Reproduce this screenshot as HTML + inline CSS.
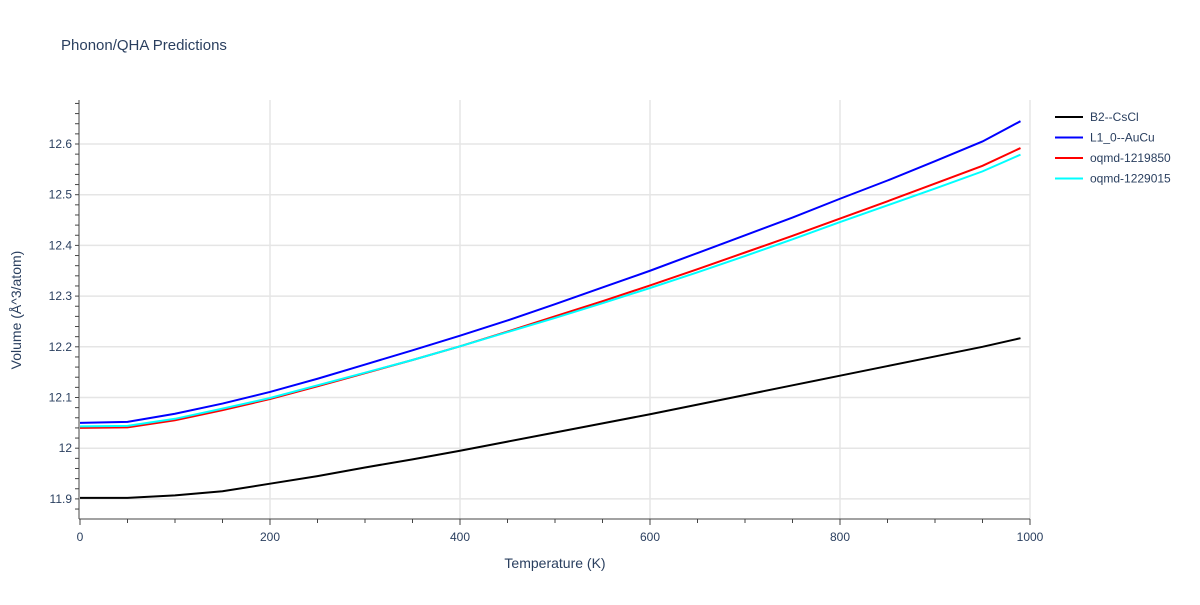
<!DOCTYPE html>
<html><head><meta charset="utf-8"><style>
body{margin:0;background:#fff;font-family:"Liberation Sans",sans-serif}
svg text{font-family:"Liberation Sans",sans-serif;fill:#2a3f5f}
</style></head><body>
<svg id="chart" width="1200" height="600">
<text x="61" y="50" font-size="15">Phonon/QHA Predictions</text>
<g id="grid"></g><g id="axes"></g><g id="series"></g>
<text x="555" y="568" font-size="14" text-anchor="middle">Temperature (K)</text>
<text transform="translate(21,310) rotate(-90)" font-size="14" text-anchor="middle">Volume (Å^3/atom)</text>
<g id="legend"></g>
</svg>
<script>
const temps=[0,50,100,150,200,250,300,350,400,450,500,550,600,650,700,750,800,850,900,950,990];
const b2=[11.902,11.902,11.907,11.915,11.930,11.945,11.962,11.978,11.995,12.013,12.031,12.049,12.067,12.086,12.105,12.124,12.143,12.162,12.181,12.200,12.217];
const l10=[12.050,12.052,12.068,12.088,12.111,12.137,12.165,12.193,12.222,12.252,12.284,12.317,12.350,12.385,12.420,12.455,12.492,12.528,12.566,12.605,12.645];
const q1=[12.040,12.041,12.055,12.075,12.097,12.122,12.148,12.174,12.201,12.230,12.260,12.290,12.321,12.353,12.386,12.419,12.453,12.487,12.522,12.557,12.592];
const q2=[12.043,12.044,12.058,12.078,12.099,12.124,12.149,12.174,12.201,12.229,12.257,12.286,12.316,12.347,12.379,12.412,12.446,12.479,12.512,12.546,12.579];
const names=["B2--CsCl","L1_0--AuCu","oqmd-1219850","oqmd-1229015"];
const colors=["#000000","#0000ff","#ff0000","#00ffff"];
const xTicks=[0,200,400,600,800,1000];
const yTicks=[11.9,12,12.1,12.2,12.3,12.4,12.5,12.6];
const yLabels=["11.9","12","12.1","12.2","12.3","12.4","12.5","12.6"];
const NS="http://www.w3.org/2000/svg";
const X=v=>80+v*0.95, Y=v=>144+(12.6-v)*507;
function mk(t,p,a){const e=document.createElementNS(NS,t);for(const k in a)e.setAttribute(k,a[k]);p.appendChild(e);return e;}
const g=document.getElementById('grid'),ax=document.getElementById('axes'),s=document.getElementById('series'),lg=document.getElementById('legend');
xTicks.forEach(t=>{if(t>0){const l=mk('line',g,{x1:X(t),x2:X(t),y1:100,y2:519,stroke:'#e5e5e5','stroke-width':1.5});

}
const tx=mk('text',ax,{x:X(t),y:541,'font-size':12,'text-anchor':'middle'});tx.textContent=t;

});
for(let t=0;t<=1000;t+=50){mk('line',ax,{x1:X(t),x2:X(t),y1:519,y2:(t%200==0?525:523),stroke:'#444','stroke-width':1});}
yTicks.forEach((t,i)=>{const l=mk('line',g,{x1:80,x2:1030,y1:Y(t),y2:Y(t),stroke:'#e5e5e5','stroke-width':1.5});


const tx=mk('text',ax,{x:72,y:Y(t)+4,'font-size':12,'text-anchor':'end'});tx.textContent=yLabels[i];

});
for(let v=11.88;v<=12.68;v+=0.02){const y=Y(v);if(y>=100&&y<=519)mk('line',ax,{x1:79,x2:75,y1:y,y2:y,stroke:'#444','stroke-width':1});}
mk('line',ax,{x1:79,x2:79,y1:100,y2:519,stroke:'#444','stroke-width':1});
mk('line',ax,{x1:79,x2:1030,y1:519,y2:519,stroke:'#444','stroke-width':1});
[b2,l10,q1,q2].forEach((arr,i)=>{const p=mk('polyline',s,{points:temps.map((t,j)=>X(t)+','+Y(arr[j])).join(' '),fill:'none',stroke:colors[i],'stroke-width':2});


const y=117+i*20.5;
const gi=mk('g',lg,{});


mk('line',gi,{x1:1055,x2:1083,y1:y,y2:y,stroke:colors[i],'stroke-width':2});
const tx=mk('text',gi,{x:1090,y:y+4,'font-size':12});tx.textContent=names[i];});
</script>
</body></html>
